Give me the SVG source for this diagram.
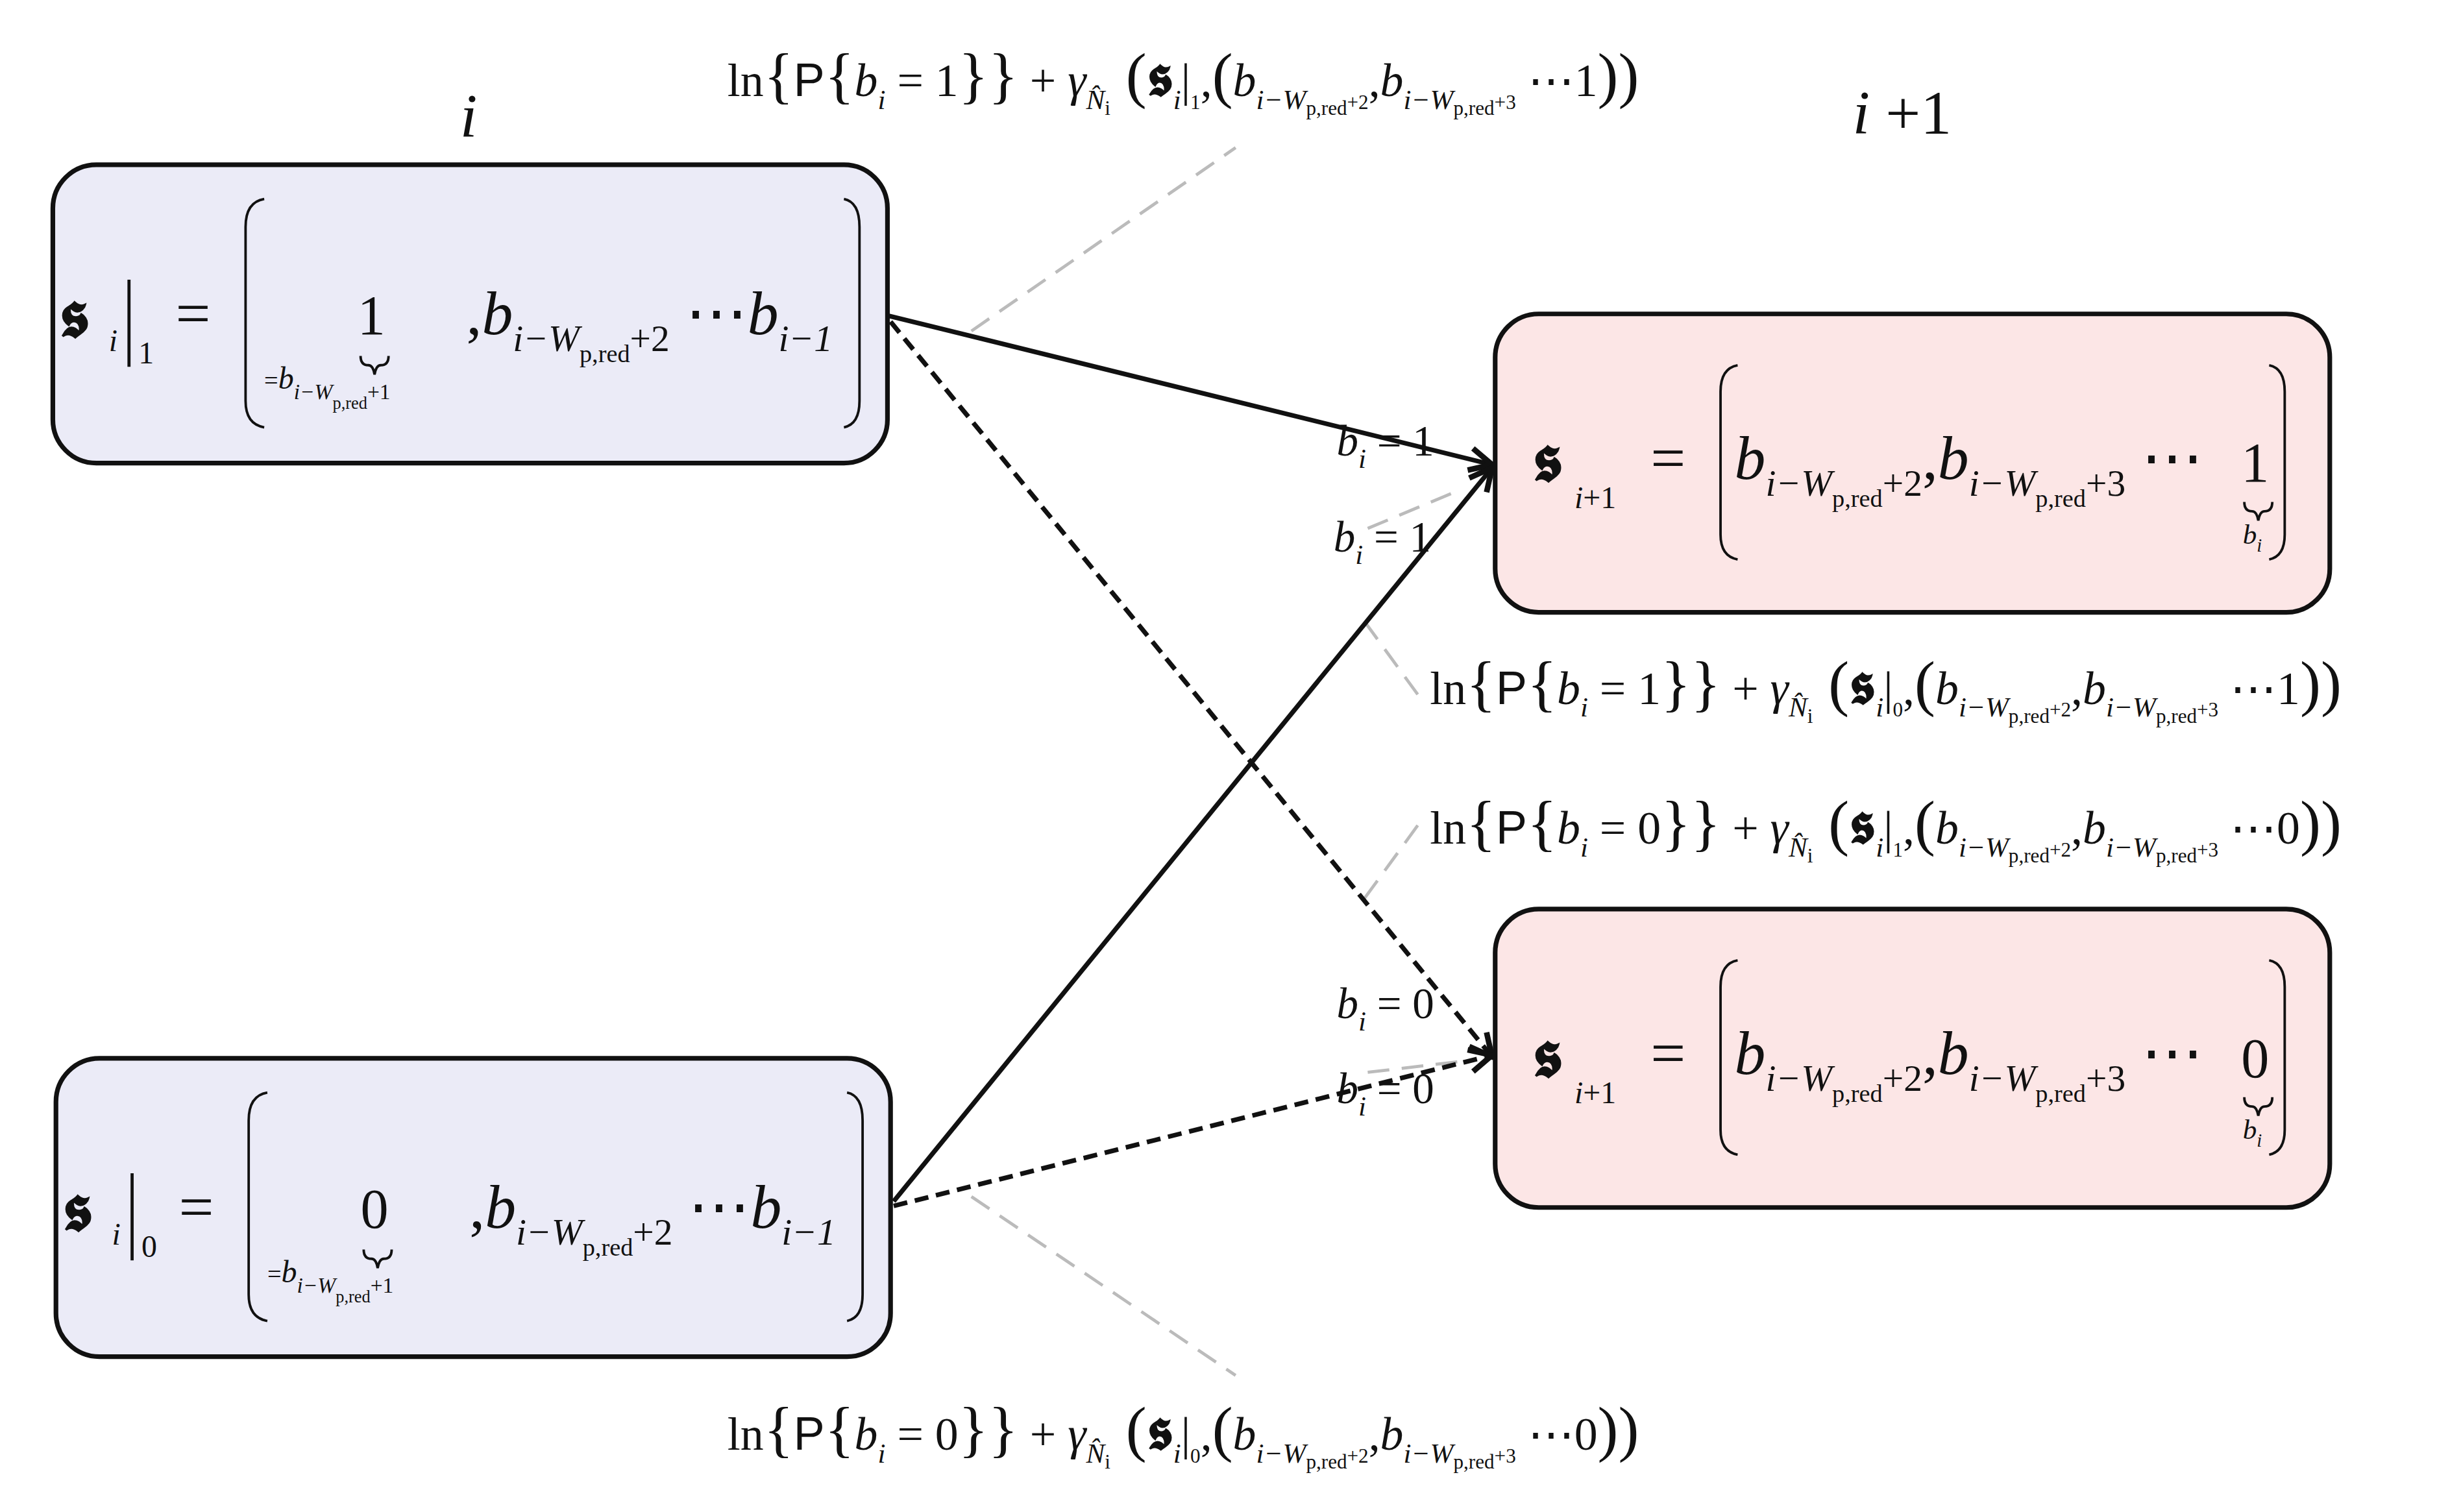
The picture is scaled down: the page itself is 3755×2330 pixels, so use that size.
<svg xmlns="http://www.w3.org/2000/svg" width="3755" height="2330" viewBox="0 0 3755 2330">
<style>
text{font-family:"Liberation Serif","DejaVu Serif",serif;fill:#111}
.it{font-style:italic}
.sf{font-family:"Liberation Sans",sans-serif}
.s1{font-size:18px;font-style:italic}
.s2{font-size:13px}
.br{font-size:40px}
.fk{font-weight:bold;font-size:38px}
.box{stroke:#111;stroke-width:3}
.bl{fill:#ebebf7}
.pk{fill:#fce6e6}
.par{fill:none;stroke:#111;stroke-width:1.6}
.ld{stroke:#bbb;stroke-width:2;stroke-dasharray:14 8;fill:none}
.ed{stroke:#111;stroke-width:3;fill:none}
.dash{stroke-dasharray:9 5}
</style>
<defs>
<marker id="ah" viewBox="0 0 10 10" refX="9" refY="5" markerWidth="6" markerHeight="6" orient="auto"><path d="M1,1 L9,5 L1,9" fill="none" stroke="#111" stroke-width="2"/></marker>
</defs>
<rect width="3755" height="2330" fill="#fff"/>
<g transform="scale(2.3948)">
<text x="296" y="88" font-size="40" class="it">i</text>
<text x="1192" y="86" font-size="40"><tspan class="it">i</tspan> +1</text>

<g id="connectors">
<line class="ld" x1="625" y1="213" x2="795" y2="95"/>
<line class="ld" x1="878" y1="400" x2="913" y2="448"/>
<line class="ld" x1="878" y1="578" x2="913" y2="530"/>
<line class="ld" x1="625" y1="770" x2="795" y2="885"/>
<line class="ld" x1="880" y1="690" x2="940" y2="683"/>
<line class="ld" x1="880" y1="340" x2="940" y2="315"/>
<line class="ed" x1="571" y1="203" x2="960" y2="299" marker-end="url(#ah)"/>
<line class="ed dash" x1="573" y1="207" x2="960" y2="680" marker-end="url(#ah)"/>
<line class="ed" x1="575" y1="773" x2="960" y2="301" marker-end="url(#ah)"/>
<line class="ed dash" x1="575" y1="776" x2="960" y2="679" marker-end="url(#ah)"/>
<text x="860" y="293" font-size="28"><tspan class="it">b</tspan><tspan class="s1" y="301">i</tspan><tspan y="293"> = 1</tspan></text>
<text x="858" y="355" font-size="28"><tspan class="it">b</tspan><tspan class="s1" y="363">i</tspan><tspan y="355"> = 1</tspan></text>
<text x="860" y="655" font-size="28"><tspan class="it">b</tspan><tspan class="s1" y="663">i</tspan><tspan y="655"> = 0</tspan></text>
<text x="860" y="710" font-size="28"><tspan class="it">b</tspan><tspan class="s1" y="718">i</tspan><tspan y="710"> = 0</tspan></text>
</g>

<g id="node-top-left">
<rect class="box bl" x="34" y="106" width="537" height="192" rx="28"/>
<text x="38" y="217" class="fk" font-size="44" style="font-size:44px">𝖘</text>
<text x="70" y="226" font-size="20" class="it">i</text>
<line x1="83" y1="180" x2="83" y2="236" stroke="#111" stroke-width="2"/>
<text x="89" y="234" font-size="20">1</text>
<text x="113" y="215" font-size="40">=</text>
<path class="par" d="M170,128 Q158,130 158,146 L158,258 Q158,273 170,275"/>
<path class="par" d="M543,128 Q553,130 553,146 L553,258 Q553,273 543,275"/>
<text x="230" y="215" font-size="36">1</text>
<path class="par" d="M232,229 q0,6 5,6 q3,0 4,6 q1,-6 4,-6 q5,0 5,-6"/>
<text x="170" y="250" font-size="16">=<tspan class="it" font-size="20">b</tspan><tspan font-size="14" class="it" y="257">i−W</tspan><tspan font-size="11" y="263">p,red</tspan><tspan font-size="14" y="257">+1</tspan></text>
<text y="215" font-size="40"><tspan x="300">,</tspan><tspan class="it">b</tspan><tspan font-size="24" class="it" y="226">i−W</tspan><tspan font-size="16" y="233">p,red</tspan><tspan font-size="24" y="226">+2</tspan><tspan y="215"> ⋯</tspan><tspan class="it">b</tspan><tspan font-size="24" class="it" y="226">i−1</tspan></text>
</g>

<g id="node-bottom-left" transform="translate(2,575)">
<rect class="box bl" x="34" y="106" width="537" height="192" rx="28"/>
<text x="38" y="217" class="fk" style="font-size:44px">𝖘</text>
<text x="70" y="226" font-size="20" class="it">i</text>
<line x1="83" y1="180" x2="83" y2="236" stroke="#111" stroke-width="2"/>
<text x="89" y="234" font-size="20">0</text>
<text x="113" y="215" font-size="40">=</text>
<path class="par" d="M170,128 Q158,130 158,146 L158,258 Q158,273 170,275"/>
<path class="par" d="M543,128 Q553,130 553,146 L553,258 Q553,273 543,275"/>
<text x="230" y="215" font-size="36">0</text>
<path class="par" d="M232,229 q0,6 5,6 q3,0 4,6 q1,-6 4,-6 q5,0 5,-6"/>
<text x="170" y="250" font-size="16">=<tspan class="it" font-size="20">b</tspan><tspan font-size="14" class="it" y="257">i−W</tspan><tspan font-size="11" y="263">p,red</tspan><tspan font-size="14" y="257">+1</tspan></text>
<text y="215" font-size="40"><tspan x="300">,</tspan><tspan class="it">b</tspan><tspan font-size="24" class="it" y="226">i−W</tspan><tspan font-size="16" y="233">p,red</tspan><tspan font-size="24" y="226">+2</tspan><tspan y="215"> ⋯</tspan><tspan class="it">b</tspan><tspan font-size="24" class="it" y="226">i−1</tspan></text>
</g>

<g id="node-top-right">
<rect class="box pk" x="962" y="202" width="537" height="192" rx="28"/>
<text x="986" y="310" class="fk" style="font-size:44px">𝖘</text>
<text x="1013" y="327" font-size="20"><tspan class="it">i</tspan>+1</text>
<text x="1062" y="308" font-size="40">=</text>
<path class="par" d="M1118,235 Q1107,237 1107,252 L1107,344 Q1107,358 1118,360"/>
<path class="par" d="M1460,235 Q1470,237 1470,252 L1470,344 Q1470,358 1460,360"/>
<text y="308" font-size="40"><tspan x="1116" class="it">b</tspan><tspan font-size="24" class="it" y="319">i−W</tspan><tspan font-size="16" y="326">p,red</tspan><tspan font-size="24" y="319">+2</tspan><tspan y="308">,</tspan><tspan class="it">b</tspan><tspan font-size="24" class="it" y="319">i−W</tspan><tspan font-size="16" y="326">p,red</tspan><tspan font-size="24" y="319">+3</tspan><tspan y="308"> ⋯</tspan></text>
<text x="1442" y="310" font-size="36">1</text>
<path class="par" d="M1444,323 q0,6 5,6 q3,0 4,6 q1,-6 4,-6 q5,0 5,-6"/>
<text x="1443" y="350" font-size="18"><tspan class="it">b</tspan><tspan font-size="12" class="it" y="355">i</tspan></text>
</g>

<g id="node-bottom-right" transform="translate(0,383)">
<rect class="box pk" x="962" y="202" width="537" height="192" rx="28"/>
<text x="986" y="310" class="fk" style="font-size:44px">𝖘</text>
<text x="1013" y="327" font-size="20"><tspan class="it">i</tspan>+1</text>
<text x="1062" y="308" font-size="40">=</text>
<path class="par" d="M1118,235 Q1107,237 1107,252 L1107,344 Q1107,358 1118,360"/>
<path class="par" d="M1460,235 Q1470,237 1470,252 L1470,344 Q1470,358 1460,360"/>
<text y="308" font-size="40"><tspan x="1116" class="it">b</tspan><tspan font-size="24" class="it" y="319">i−W</tspan><tspan font-size="16" y="326">p,red</tspan><tspan font-size="24" y="319">+2</tspan><tspan y="308">,</tspan><tspan class="it">b</tspan><tspan font-size="24" class="it" y="319">i−W</tspan><tspan font-size="16" y="326">p,red</tspan><tspan font-size="24" y="319">+3</tspan><tspan y="308"> ⋯</tspan></text>
<text x="1442" y="310" font-size="36">0</text>
<path class="par" d="M1444,323 q0,6 5,6 q3,0 4,6 q1,-6 4,-6 q5,0 5,-6"/>
<text x="1443" y="350" font-size="18"><tspan class="it">b</tspan><tspan font-size="12" class="it" y="355">i</tspan></text>
</g>

<g id="label-top" transform="translate(468,62)">
<text y="0" font-size="30"><tspan>ln</tspan><tspan class="br">{</tspan><tspan class="sf">P</tspan><tspan class="br">{</tspan><tspan class="it">b</tspan><tspan class="s1" y="8">i</tspan><tspan y="0"> = 1</tspan><tspan class="br">}}</tspan><tspan> + </tspan><tspan class="it">γ</tspan><tspan class="s1" y="8">N̂</tspan><tspan class="s2" y="12">i</tspan><tspan class="br" y="0"> (</tspan><tspan class="fk">𝖘</tspan><tspan class="s1" y="8">i</tspan><tspan y="0">|</tspan><tspan class="s2" y="8">1</tspan><tspan y="0">,</tspan><tspan class="br">(</tspan><tspan class="it">b</tspan><tspan class="s1" y="8">i−W</tspan><tspan class="s2" y="12">p,red</tspan><tspan class="s2" y="8">+2</tspan><tspan y="0">,</tspan><tspan class="it">b</tspan><tspan class="s1" y="8">i−W</tspan><tspan class="s2" y="12">p,red</tspan><tspan class="s2" y="8">+3</tspan><tspan y="0"> ⋯1</tspan><tspan class="br">))</tspan></text>
</g>
<g id="label-mid1" transform="translate(920,453)">
<text y="0" font-size="30"><tspan>ln</tspan><tspan class="br">{</tspan><tspan class="sf">P</tspan><tspan class="br">{</tspan><tspan class="it">b</tspan><tspan class="s1" y="8">i</tspan><tspan y="0"> = 1</tspan><tspan class="br">}}</tspan><tspan> + </tspan><tspan class="it">γ</tspan><tspan class="s1" y="8">N̂</tspan><tspan class="s2" y="12">i</tspan><tspan class="br" y="0"> (</tspan><tspan class="fk">𝖘</tspan><tspan class="s1" y="8">i</tspan><tspan y="0">|</tspan><tspan class="s2" y="8">0</tspan><tspan y="0">,</tspan><tspan class="br">(</tspan><tspan class="it">b</tspan><tspan class="s1" y="8">i−W</tspan><tspan class="s2" y="12">p,red</tspan><tspan class="s2" y="8">+2</tspan><tspan y="0">,</tspan><tspan class="it">b</tspan><tspan class="s1" y="8">i−W</tspan><tspan class="s2" y="12">p,red</tspan><tspan class="s2" y="8">+3</tspan><tspan y="0"> ⋯1</tspan><tspan class="br">))</tspan></text>
</g>
<g id="label-mid2" transform="translate(920,543)">
<text y="0" font-size="30"><tspan>ln</tspan><tspan class="br">{</tspan><tspan class="sf">P</tspan><tspan class="br">{</tspan><tspan class="it">b</tspan><tspan class="s1" y="8">i</tspan><tspan y="0"> = 0</tspan><tspan class="br">}}</tspan><tspan> + </tspan><tspan class="it">γ</tspan><tspan class="s1" y="8">N̂</tspan><tspan class="s2" y="12">i</tspan><tspan class="br" y="0"> (</tspan><tspan class="fk">𝖘</tspan><tspan class="s1" y="8">i</tspan><tspan y="0">|</tspan><tspan class="s2" y="8">1</tspan><tspan y="0">,</tspan><tspan class="br">(</tspan><tspan class="it">b</tspan><tspan class="s1" y="8">i−W</tspan><tspan class="s2" y="12">p,red</tspan><tspan class="s2" y="8">+2</tspan><tspan y="0">,</tspan><tspan class="it">b</tspan><tspan class="s1" y="8">i−W</tspan><tspan class="s2" y="12">p,red</tspan><tspan class="s2" y="8">+3</tspan><tspan y="0"> ⋯0</tspan><tspan class="br">))</tspan></text>
</g>
<g id="label-bottom" transform="translate(468,933)">
<text y="0" font-size="30"><tspan>ln</tspan><tspan class="br">{</tspan><tspan class="sf">P</tspan><tspan class="br">{</tspan><tspan class="it">b</tspan><tspan class="s1" y="8">i</tspan><tspan y="0"> = 0</tspan><tspan class="br">}}</tspan><tspan> + </tspan><tspan class="it">γ</tspan><tspan class="s1" y="8">N̂</tspan><tspan class="s2" y="12">i</tspan><tspan class="br" y="0"> (</tspan><tspan class="fk">𝖘</tspan><tspan class="s1" y="8">i</tspan><tspan y="0">|</tspan><tspan class="s2" y="8">0</tspan><tspan y="0">,</tspan><tspan class="br">(</tspan><tspan class="it">b</tspan><tspan class="s1" y="8">i−W</tspan><tspan class="s2" y="12">p,red</tspan><tspan class="s2" y="8">+2</tspan><tspan y="0">,</tspan><tspan class="it">b</tspan><tspan class="s1" y="8">i−W</tspan><tspan class="s2" y="12">p,red</tspan><tspan class="s2" y="8">+3</tspan><tspan y="0"> ⋯0</tspan><tspan class="br">))</tspan></text>
</g>
</g>
</svg>
